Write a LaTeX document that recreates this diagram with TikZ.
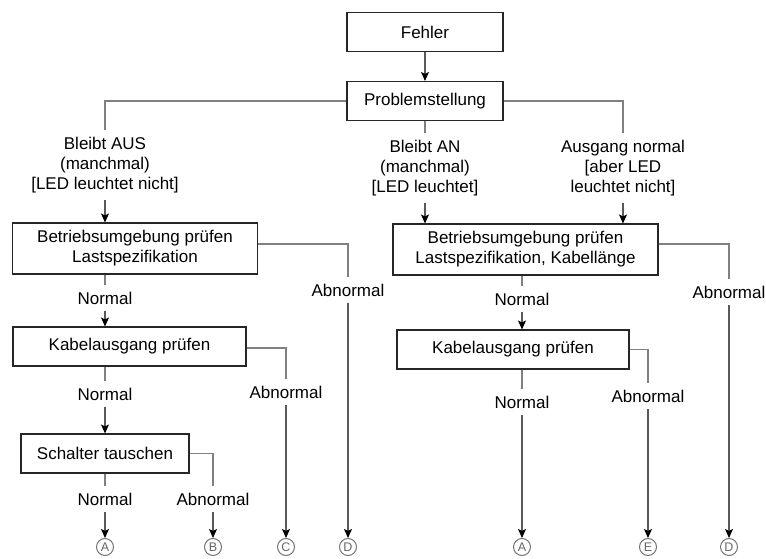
\documentclass[tikz,border=0pt]{standalone}
\usepackage{fontspec}
\setmainfont{Liberation Sans}
\usepackage{tikz}
\usetikzlibrary{shapes,arrows.meta}

\begin{document}
\begin{tikzpicture}[x=1pt,y=-1pt,
  box/.style={rectangle,draw=black!85,line width=1.1pt,fill=white,align=center,inner sep=0pt,font=\fontsize{17}{20}\selectfont},
  lbl/.style={align=center,inner xsep=2pt,inner ysep=7pt,font=\fontsize{17}{20}\selectfont},
  tag/.style={circle,draw=black!55,line width=1pt,minimum size=17pt,inner sep=0pt,text=black!60,font=\fontsize{12.5}{12.5}\selectfont},
  wire/.style={draw=black!50,line width=1.3pt},
  arr/.style={draw=black!65,line width=1.1pt,-{Stealth[black,length=9pt,width=8pt,inset=2pt]}}]

\useasboundingbox (0,0) rectangle (766,559);

\node [box,minimum width=156pt,minimum height=39pt] (v1) at (425,32) {Fehler};
\node [box,minimum width=156pt,minimum height=39pt] (v2) at (425,101) {Problemstellung};

\node [lbl] (v3) at (105,165) {Bleibt AUS\\(manchmal)\\{[LED leuchtet nicht]}};
\node [lbl] (v4) at (425,168) {Bleibt AN\\(manchmal)\\{[LED leuchtet]}};
\node [lbl] (v5) at (623,168) {Ausgang normal\\{[aber LED}\\leuchtet nicht]};

\node [box,minimum width=245pt,minimum height=51pt] (v6) at (135,248.5) {Betriebsumgebung pr\"ufen\\Lastspezifikation};
\node [box,minimum width=265pt,minimum height=51pt] (v7) at (525.5,249.5) {Betriebsumgebung pr\"ufen\\Lastspezifikation, Kabell\"ange};

\node [lbl] (v8) at (105,298) {Normal};
\node [lbl] (v9) at (348,290) {Abnormal};
\node [lbl] (v10) at (522,299) {Normal};
\node [lbl] (v11) at (729,292) {Abnormal};

\node [box,minimum width=233pt,minimum height=39pt] (v12) at (129.5,346.5) {Kabelausgang pr\"ufen};
\node [box,minimum width=232pt,minimum height=39pt] (v13) at (513,349.5) {Kabelausgang pr\"ufen};

\node [lbl] (v14) at (105,394) {Normal};
\node [lbl] (v15) at (286,392) {Abnormal};
\node [lbl] (v16) at (522,402) {Normal};
\node [lbl] (v17) at (648,396) {Abnormal};

\node [box,minimum width=168pt,minimum height=39pt] (v18) at (105,453.5) {Schalter tauschen};

\node [lbl] (v19) at (105,499) {Normal};
\node [lbl] (v20) at (213,499) {Abnormal};

\node [tag] (v21) at (105,547) {A};
\node [tag] (v22) at (213,547) {B};
\node [tag] (v23) at (286,547) {C};
\node [tag] (v24) at (348,547) {D};
\node [tag] (v25) at (522,547) {A};
\node [tag] (v26) at (648,547) {E};
\node [tag] (v27) at (729,547) {D};

% top
\draw (v1) edge[arr] (v2);
\draw[wire] (v2.west) -| (v3.north);
\draw[wire] (v2.east) -| (v5.north);
\draw (v2) edge[wire] (v4);
\draw (v3) edge[arr] (v3 |- v6.north);
\draw (v4) edge[arr] (v4 |- v7.north);
\draw (v5) edge[arr] (v5 |- v7.north);

% left branch
\draw[wire] ([yshift=4.5pt]v6.east) -| (v9.north);
\draw (v9) edge[arr] (v24);
\draw (v8 |- v6.south) edge[wire] (v8);
\draw (v8) edge[arr] (v8 |- v12.north);
\draw[wire] ([yshift=-1.5pt]v12.east) -| (v15.north);
\draw (v15) edge[arr] (v23);
\draw (v14 |- v12.south) edge[wire] (v14);
\draw (v14) edge[arr] (v18);
\draw[wire] (v18.east) -| (v20.north);
\draw (v20) edge[arr] (v22);
\draw (v18) edge[wire] (v19);
\draw (v19) edge[arr] (v21);

% right branch
\draw[wire] ([yshift=5.5pt]v7.east) -| (v11.north);
\draw (v11) edge[arr] (v27);
\draw (v10 |- v7.south) edge[wire] (v10);
\draw (v10) edge[arr] (v10 |- v13.north);
\draw[wire] (v13.east) -| (v17.north);
\draw (v17) edge[arr] (v26);
\draw (v16 |- v13.south) edge[wire] (v16);
\draw (v16) edge[arr] (v25);

\end{tikzpicture}
\end{document}
